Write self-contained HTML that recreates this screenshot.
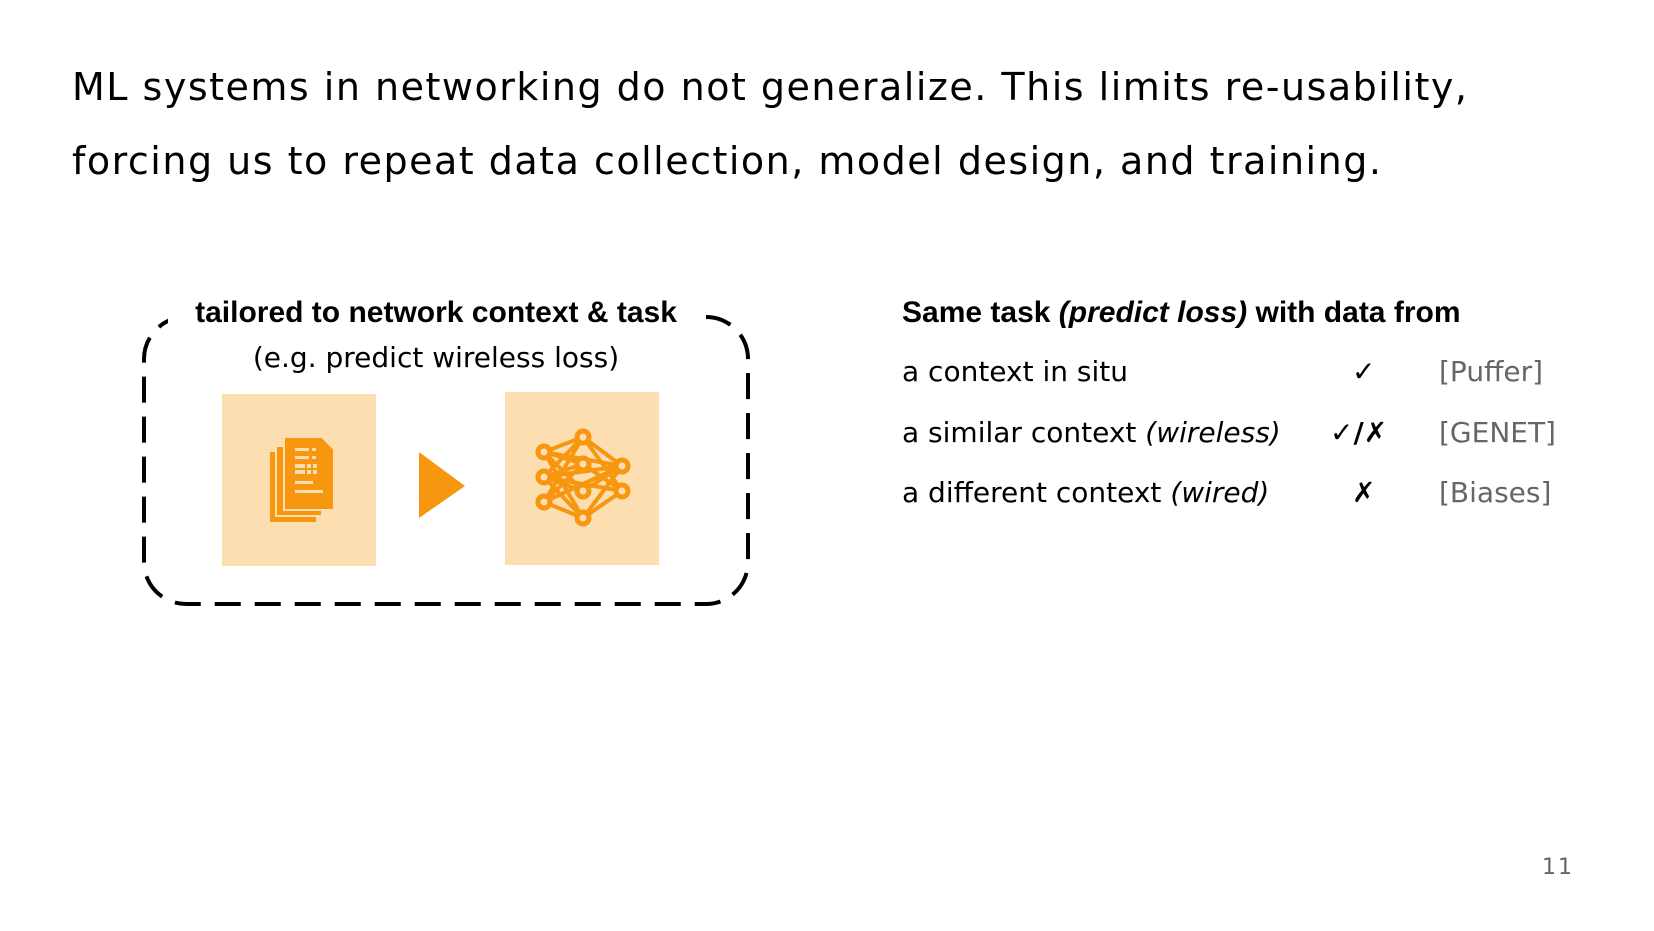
<!DOCTYPE html>
<html><head><meta charset="utf-8"><style>
html,body{margin:0;padding:0;background:#fff;}
body{width:1654px;height:931px;position:relative;overflow:hidden;font-family:"DejaVu Sans","Liberation Sans",sans-serif;color:#000;}
.t{position:absolute;white-space:nowrap;}
.title{left:72px;font-size:38px;letter-spacing:1.5px;}
.r{font-size:28px;}
.g{color:#666;}
</style></head><body>
<div class="t title" style="top:65px">ML systems in networking do not generalize. This limits re-usability,</div>
<div class="t title" style="top:139px">forcing us to repeat data collection, model design, and training.</div>

<svg width="1654" height="931" style="position:absolute;left:0;top:0">
<rect x="144" y="317" width="604" height="287" rx="42" fill="none" stroke="#000" stroke-width="4" stroke-dasharray="26,14"/>
<rect x="168" y="296" width="536" height="40" fill="#fff"/>
<rect x="222" y="394" width="154" height="172" fill="#fddeb0"/>
<rect x="505" y="392" width="154" height="173" fill="#fddeb0"/>
<polygon points="419,452 465,486 419,518" fill="#f7960f"/>
<g fill="#f7960f">
<rect x="270" y="452" width="46" height="70"/>
<rect x="276" y="446" width="46" height="70" stroke="#fddeb0" stroke-width="2"/>
<path d="M284 437 h38 l12 12 v61 h-50 z" stroke="#fddeb0" stroke-width="2"/>
</g>
<g fill="#fddeb0"><rect x="295" y="448" width="14" height="3"/><rect x="312" y="448" width="4" height="3"/><rect x="295" y="456" width="14" height="3"/><rect x="312" y="456" width="4" height="3"/><rect x="295" y="464" width="10" height="4"/><rect x="307" y="464" width="4" height="4"/><rect x="313" y="464" width="4" height="4"/><rect x="295" y="470" width="10" height="4"/><rect x="307" y="470" width="4" height="4"/><rect x="313" y="470" width="4" height="4"/><rect x="295" y="481" width="18" height="3"/><rect x="295" y="490" width="28" height="3"/></g>
<g stroke="#f7960f" stroke-width="4" fill="none">
<path d="M583 437 L544 452 M583 437 L622 466 M583 437 L544 502 M583 437 L622 491 M583 437 L544 477 M544 452 L622 466 M544 452 L583 464 M544 452 L583 491 M544 477 L622 466 M544 477 L622 491 M544 502 L583 464 M544 502 L583 518 M544 502 L622 466 M544 452 L583 518 M622 466 L583 518 M622 491 L583 518 M583 464 L622 491 M583 491 L622 466 M544 477 L583 464 M544 477 L583 491 M544 477 L583 518"/>
</g>
<g fill="#fddeb0" stroke="#f7960f" stroke-width="5">
<circle cx="583" cy="437" r="6"/><circle cx="544" cy="452" r="6"/><circle cx="544" cy="477" r="6"/><circle cx="544" cy="502" r="6"/><circle cx="583" cy="464" r="6"/><circle cx="583" cy="491" r="6"/><circle cx="583" cy="518" r="6"/><circle cx="622" cy="466" r="6"/><circle cx="622" cy="491" r="6"/>
</g>
</svg>

<div class="t" style="left:436px;top:296px;transform:translateX(-50%);font-family:'Liberation Sans',sans-serif;font-weight:bold;font-size:30px;">tailored to network context &amp; task</div>
<div class="t" style="left:436px;top:341px;transform:translateX(-50%);font-size:28px;">(e.g. predict wireless loss)</div>

<div class="t" style="left:902px;top:296px;font-family:'Liberation Sans',sans-serif;font-weight:bold;font-size:30px;">Same task <i>(predict loss)</i> with data from</div>
<div class="t r" style="left:902px;top:355px">a context in situ</div>
<div class="t r" style="left:902px;top:416px">a similar context <i>(wireless)</i></div>
<div class="t r" style="left:902px;top:476px">a different context <i>(wired)</i></div>
<div class="t r" style="left:1352px;top:355px;font-weight:bold">✓</div>
<div class="t r" style="left:1330px;top:416px;font-weight:bold">✓/✗</div>
<div class="t r" style="left:1352px;top:476px;font-weight:bold">✗</div>
<div class="t r g" style="left:1439px;top:355px">[Puffer]</div>
<div class="t r g" style="left:1439px;top:416px">[GENET]</div>
<div class="t r g" style="left:1439px;top:476px">[Biases]</div>
<div class="t g" style="left:1542px;top:855px;font-size:22px;letter-spacing:2px">11</div>
</body></html>
